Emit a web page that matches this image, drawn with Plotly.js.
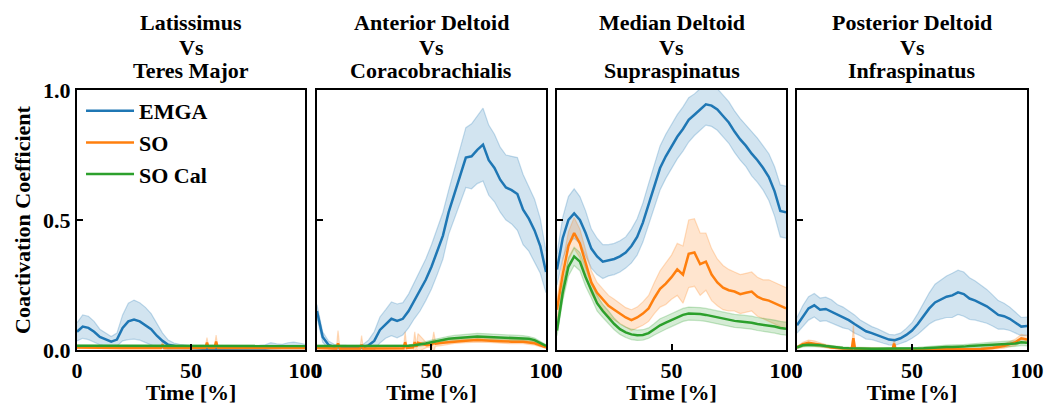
<!DOCTYPE html>
<html><head><meta charset="utf-8">
<script src="https://cdn.plot.ly/plotly-3.0.1.min.js"></script>
<style>html,body{margin:0;padding:0;background:#fff}#chart{width:1045px;height:405px}</style>
</head><body><div id="chart"></div>
<script>
const panelTitles = [['Latissimus','Vs','Teres Major'],['Anterior Deltoid','Vs','Coracobrachialis'],['Median Deltoid','Vs','Supraspinatus'],['Posterior Deltoid','Vs','Infraspinatus']];
const seriesNames = ['EMGA','SO','SO Cal'];
const xTitle = 'Time [%]';
const yTitle = 'Coactivation Coefficient';
const xTickVals = [0,50,100];
const yTickVals = [0,0.5,1];
const yTickText = ['0.0','0.5','1.0'];
const tGrid = [0,2.5,5,7.5,10,12.5,15,17.5,20,22.5,25,27.5,30,32.5,35,37.5,40,42.5,45,47.5,50,52.5,55,57.5,60,62.5,65,67.5,70,72.5,75,77.5,80,82.5,85,87.5,90,92.5,95,97.5,100];

// Panel 1
const emga1 = [0.07,0.09,0.085,0.07,0.05,0.04,0.032,0.04,0.085,0.11,0.117,0.11,0.096,0.08,0.055,0.035,0.02,0.015,0.012,0.01,0.008,0.006,0.005,0.005,0.005,0.005,0.006,0.006,0.006,0.006,0.006,0.006,0.006,0.006,0.008,0.008,0.01,0.008,0.01,0.012,0.01];
const emga1Sd = [0.035,0.045,0.045,0.04,0.03,0.025,0.02,0.025,0.05,0.07,0.075,0.072,0.068,0.06,0.045,0.03,0.018,0.012,0.01,0.009,0.008,0.008,0.008,0.008,0.009,0.009,0.009,0.009,0.009,0.009,0.01,0.01,0.012,0.014,0.02,0.016,0.012,0.02,0.02,0.015,0.012];
const tSO1 = [0,5,10,20,30,36.8,37.5,38.2,45,50,56.3,57,57.7,60.3,61,61.7,70,80,90,100];
const so1 = [0.01,0.009,0.008,0.008,0.008,0.008,0.02,0.008,0.008,0.008,0.008,0.028,0.008,0.008,0.032,0.008,0.008,0.008,0.008,0.008];
const so1Sd = [0.004,0.004,0.004,0.004,0.004,0.004,0.012,0.004,0.004,0.004,0.004,0.02,0.004,0.004,0.025,0.004,0.004,0.004,0.004,0.004];
const socal1 = [0.016,0.016,0.015,0.015,0.015,0.015,0.015,0.015,0.015,0.015,0.015,0.015,0.015,0.015,0.015,0.015,0.015,0.015,0.015,0.015,0.015,0.015,0.015,0.015,0.015,0.015,0.015,0.015,0.015,0.015,0.015,0.015,0.015,0.015,0.015,0.015,0.015,0.015,0.015,0.015,0.015];
const socal1Sd = [0.003,0.003,0.003,0.003,0.003,0.003,0.003,0.003,0.003,0.003,0.003,0.003,0.003,0.003,0.003,0.003,0.003,0.003,0.003,0.003,0.003,0.003,0.003,0.003,0.003,0.003,0.003,0.003,0.003,0.003,0.003,0.003,0.003,0.003,0.003,0.003,0.003,0.003,0.003,0.003,0.003];

// Panel 2
const emga2 = [0.15,0.05,0.02,0.012,0.01,0.01,0.008,0.008,0.01,0.018,0.035,0.077,0.10,0.12,0.112,0.12,0.15,0.19,0.225,0.27,0.32,0.38,0.44,0.53,0.60,0.67,0.74,0.745,0.77,0.79,0.73,0.70,0.655,0.625,0.615,0.60,0.54,0.505,0.46,0.40,0.30];
const emga2Sd = [0.025,0.02,0.015,0.01,0.008,0.008,0.006,0.006,0.01,0.02,0.035,0.05,0.055,0.065,0.065,0.062,0.065,0.07,0.075,0.08,0.085,0.09,0.09,0.085,0.095,0.105,0.115,0.125,0.13,0.14,0.135,0.13,0.125,0.125,0.13,0.14,0.135,0.125,0.12,0.105,0.08];
const tSO2 = [0,5,8.5,9.2,10,18.8,19.5,20.2,30,37.8,38.5,39.2,42,42.7,43.4,44.1,48,50.3,51,51.7,55,60,65,70,75,80,85,90,95,100];
const so2 = [0.008,0.006,0.006,0.025,0.006,0.006,0.02,0.006,0.006,0.007,0.03,0.008,0.01,0.03,0.012,0.028,0.018,0.022,0.03,0.024,0.028,0.033,0.036,0.038,0.037,0.034,0.032,0.032,0.026,0.01];
const so2Sd = [0.004,0.004,0.004,0.05,0.004,0.004,0.035,0.004,0.004,0.004,0.04,0.005,0.006,0.04,0.006,0.035,0.008,0.01,0.04,0.01,0.01,0.008,0.008,0.008,0.008,0.008,0.008,0.008,0.007,0.004];
const socal2 = [0.015,0.015,0.015,0.015,0.015,0.015,0.015,0.015,0.015,0.015,0.015,0.015,0.015,0.015,0.015,0.015,0.016,0.018,0.021,0.025,0.03,0.035,0.04,0.043,0.045,0.047,0.048,0.05,0.052,0.051,0.05,0.049,0.048,0.047,0.046,0.046,0.045,0.043,0.038,0.028,0.016];
const socal2Sd = [0.003,0.003,0.003,0.003,0.003,0.003,0.003,0.003,0.003,0.003,0.003,0.003,0.003,0.003,0.003,0.003,0.004,0.005,0.006,0.007,0.008,0.009,0.01,0.01,0.011,0.011,0.012,0.012,0.012,0.012,0.012,0.011,0.011,0.011,0.01,0.01,0.01,0.009,0.008,0.006,0.004];

// Panel 3
const emga3 = [0.31,0.43,0.50,0.525,0.50,0.45,0.39,0.36,0.34,0.345,0.35,0.36,0.375,0.40,0.435,0.49,0.56,0.63,0.70,0.745,0.785,0.82,0.85,0.885,0.905,0.925,0.945,0.94,0.925,0.90,0.875,0.84,0.81,0.785,0.755,0.73,0.70,0.665,0.61,0.535,0.53];
const emga3Sd = [0.06,0.08,0.09,0.095,0.09,0.085,0.075,0.07,0.065,0.06,0.06,0.06,0.06,0.065,0.07,0.075,0.08,0.085,0.085,0.085,0.085,0.085,0.085,0.085,0.08,0.08,0.08,0.08,0.08,0.08,0.08,0.08,0.08,0.08,0.085,0.085,0.085,0.09,0.095,0.1,0.1];
const so3 = [0.155,0.29,0.40,0.45,0.41,0.33,0.26,0.22,0.195,0.17,0.155,0.14,0.125,0.115,0.125,0.14,0.16,0.20,0.235,0.255,0.28,0.31,0.29,0.37,0.375,0.33,0.34,0.29,0.26,0.24,0.23,0.225,0.215,0.22,0.225,0.205,0.195,0.19,0.18,0.17,0.16];
const so3Sd = [0.04,0.05,0.055,0.06,0.055,0.05,0.045,0.04,0.04,0.04,0.04,0.038,0.038,0.04,0.04,0.045,0.05,0.06,0.07,0.08,0.085,0.1,0.11,0.13,0.13,0.12,0.11,0.1,0.09,0.085,0.08,0.075,0.075,0.075,0.075,0.075,0.075,0.08,0.08,0.08,0.08];
const socal3 = [0.075,0.22,0.32,0.36,0.34,0.28,0.23,0.18,0.15,0.125,0.10,0.08,0.068,0.06,0.057,0.058,0.065,0.08,0.095,0.105,0.115,0.125,0.135,0.14,0.14,0.138,0.135,0.13,0.125,0.12,0.115,0.112,0.11,0.108,0.105,0.10,0.097,0.095,0.09,0.085,0.082];
const socal3Sd = [0.02,0.03,0.035,0.035,0.035,0.035,0.03,0.03,0.025,0.025,0.022,0.02,0.02,0.02,0.02,0.02,0.02,0.022,0.025,0.025,0.025,0.025,0.025,0.025,0.025,0.025,0.025,0.025,0.025,0.025,0.025,0.025,0.025,0.025,0.025,0.025,0.025,0.025,0.025,0.025,0.025];

// Panel 4
const emga4 = [0.095,0.13,0.16,0.172,0.155,0.158,0.148,0.135,0.125,0.115,0.10,0.085,0.072,0.065,0.057,0.048,0.04,0.038,0.045,0.058,0.075,0.10,0.13,0.16,0.183,0.195,0.205,0.21,0.222,0.215,0.198,0.19,0.18,0.168,0.152,0.135,0.13,0.12,0.105,0.09,0.092];
const emga4Sd = [0.03,0.04,0.045,0.045,0.045,0.045,0.045,0.04,0.04,0.035,0.035,0.03,0.03,0.025,0.025,0.022,0.02,0.02,0.02,0.025,0.03,0.04,0.05,0.06,0.07,0.075,0.08,0.085,0.085,0.085,0.08,0.075,0.07,0.065,0.06,0.055,0.05,0.045,0.04,0.035,0.035];
const tSO4 = [0,2.5,5,7.5,10,12.5,15,20,23.8,24.5,25.2,30,41.5,42.2,42.9,50,60,70,80,85,90,95,97.5,100];
const so4 = [0.01,0.022,0.028,0.025,0.02,0.015,0.01,0.006,0.005,0.045,0.005,0.004,0.003,0.025,0.003,0.003,0.003,0.003,0.004,0.008,0.015,0.03,0.045,0.04];
const so4Sd = [0.004,0.008,0.01,0.01,0.008,0.006,0.005,0.004,0.004,0.05,0.004,0.003,0.003,0.02,0.003,0.003,0.003,0.003,0.003,0.005,0.008,0.012,0.015,0.015];
const socal4 = [0.01,0.018,0.02,0.02,0.018,0.015,0.012,0.01,0.008,0.007,0.006,0.006,0.005,0.005,0.005,0.005,0.005,0.005,0.005,0.005,0.006,0.006,0.007,0.008,0.01,0.011,0.012,0.012,0.012,0.013,0.015,0.016,0.018,0.019,0.02,0.021,0.022,0.023,0.025,0.03,0.028];
const socal4Sd = [0.005,0.006,0.006,0.006,0.006,0.005,0.005,0.004,0.004,0.004,0.004,0.004,0.004,0.004,0.004,0.004,0.004,0.004,0.004,0.004,0.004,0.004,0.005,0.005,0.006,0.006,0.007,0.007,0.007,0.008,0.008,0.008,0.009,0.009,0.01,0.01,0.01,0.01,0.011,0.012,0.012];

const panels = [
  {emga:emga1, emgaSd:emga1Sd, tSO:tSO1, so:so1, soSd:so1Sd, socal:socal1, socalSd:socal1Sd},
  {emga:emga2, emgaSd:emga2Sd, tSO:tSO2, so:so2, soSd:so2Sd, socal:socal2, socalSd:socal2Sd},
  {emga:emga3, emgaSd:emga3Sd, tSO:tGrid, so:so3, soSd:so3Sd, socal:socal3, socalSd:socal3Sd},
  {emga:emga4, emgaSd:emga4Sd, tSO:tSO4, so:so4, soSd:so4Sd, socal:socal4, socalSd:socal4Sd}
];

const colors = ['#1f77b4','#ff7f0e','#2ca02c'];
const fills = ['rgba(31,119,180,0.2)','rgba(255,127,14,0.2)','rgba(44,160,44,0.2)'];
const edges = ['rgba(31,119,180,0.25)','rgba(255,127,14,0.25)','rgba(44,160,44,0.25)'];
const domains = [[0.0737,0.2919],[0.3033,0.5225],[0.5330,0.7522],[0.7627,0.9828]];
const titleShifts = [68,43,20];
const font = {family:'Liberation Serif, Times New Roman, serif', size:22, color:'#000', weight:'bold'};

const traces = [];
const layout = {
  width:1045, height:405,
  margin:{l:0,r:0,t:90,b:55},
  paper_bgcolor:'#fff', plot_bgcolor:'#fff',
  font: font,
  showlegend:true,
  legend:{x:0.0737+4/1045, y:1, xanchor:'left', yanchor:'top', traceorder:'normal', bgcolor:'rgba(0,0,0,0)', borderwidth:0, font:font, itemwidth:48, tracegroupgap:0},
  annotations:[]
};

panels.forEach((p,i)=>{
  const k = i+1;
  const xa = k===1 ? 'x' : 'x'+k;
  const ya = k===1 ? 'y' : 'y'+k;
  const series = [[tGrid,p.emga,p.emgaSd],[p.tSO,p.so,p.soSd],[tGrid,p.socal,p.socalSd]];
  series.forEach((s,j)=>{
    const lower = s[1].map((m,n)=>m - s[2][n]);
    const upper = s[1].map((m,n)=>m + s[2][n]);
    traces.push({x:s[0], y:lower, xaxis:xa, yaxis:ya, mode:'lines', line:{color:edges[j], width:1.2}, showlegend:false, hoverinfo:'skip'});
    traces.push({x:s[0], y:upper, xaxis:xa, yaxis:ya, mode:'lines', line:{color:edges[j], width:1.2}, fill:'tonexty', fillcolor:fills[j], showlegend:false, hoverinfo:'skip'});
  });
  series.forEach((s,j)=>{
    traces.push({x:s[0], y:s[1], xaxis:xa, yaxis:ya, mode:'lines', line:{color:colors[j], width:2.5}, name:seriesNames[j], showlegend:k===1});
  });
  const axBase = {showline:true, mirror:true, linecolor:'#000', linewidth:2, ticks:'inside', ticklen:6, tickwidth:2, tickcolor:'#000', showgrid:false, zeroline:false, tickfont:font, fixedrange:true};
  layout['xaxis'+(k===1?'':k)] = Object.assign({}, axBase, {domain:domains[i], anchor:ya, range:[0,100], tickmode:'array', tickvals:xTickVals, ticktext:xTickVals.map(String), title:{text:xTitle, font:font, standoff:10}});
  layout['yaxis'+(k===1?'':k)] = Object.assign({}, axBase, {domain:[0,1], anchor:xa, range:[0,1], tickmode:'array', tickvals:yTickVals, ticktext:yTickText, showticklabels:k===1});
  panelTitles[i].forEach((line,li)=>{
    layout.annotations.push({text:line, x:(domains[i][0]+domains[i][1])/2, y:1, xref:'paper', yref:'paper', xanchor:'center', yanchor:'middle', yshift:titleShifts[li], showarrow:false, font:font});
  });
});
layout.annotations.push({text:yTitle, textangle:-90, x:22/1045, y:0.5, xref:'paper', yref:'paper', xanchor:'center', yanchor:'middle', showarrow:false, font:font});

Plotly.newPlot('chart', traces, layout, {displayModeBar:false, staticPlot:true});
</script>
</body></html>
